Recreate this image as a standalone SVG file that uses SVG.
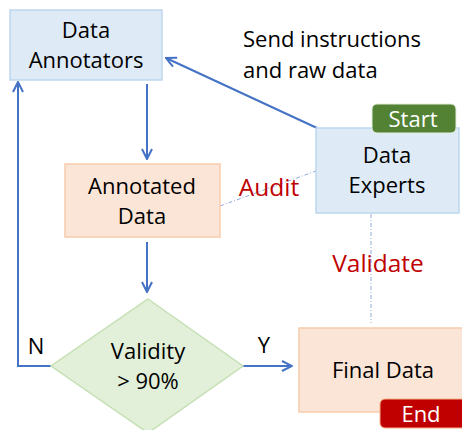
<svg xmlns="http://www.w3.org/2000/svg" width="462" height="430" viewBox="0 0 462 430">
<defs>
<style>
text{font-family:"Open Sans","Noto Sans",sans-serif;font-size:22px;fill:#000;text-anchor:middle}
.blue{fill:#DEEBF7;stroke:#BDD7EE;stroke-width:1.5}
.orange{fill:#FBE5D6;stroke:#F8CBAD;stroke-width:1.5}
.green{fill:#E2F0D9;stroke:#C5E0B4;stroke-width:1.5}
.conn{fill:none;stroke:#4472C4;stroke-width:2}
.dash{fill:none;stroke:#8FAADC;stroke-width:1;stroke-dasharray:4 2 1 2}
.red{fill:#C00000;font-size:24.5px}
.badge text{fill:#fff;font-size:22px}
</style>
<marker id="arr" viewBox="0 0 12 12" refX="11" refY="6" markerWidth="12" markerHeight="12" markerUnits="userSpaceOnUse" orient="auto">
<path d="M1,1 L11,6 L1,11" fill="none" stroke="#4472C4" stroke-width="2"/>
</marker>
</defs>
<rect width="462" height="430" fill="#fff"/>
<g id="connectors">
<line class="conn" x1="317" y1="128" x2="166" y2="58" marker-end="url(#arr)"/>
<line class="conn" x1="147" y1="84" x2="147" y2="159" marker-end="url(#arr)"/>
<line class="conn" x1="147" y1="242" x2="147" y2="292" marker-end="url(#arr)"/>
<polyline class="conn" points="51,366 18,366 18,82" marker-end="url(#arr)"/>
<line class="conn" x1="243" y1="366" x2="292" y2="366" marker-end="url(#arr)"/>
<line class="dash" x1="220" y1="206" x2="316" y2="171"/>
<line class="dash" x1="371" y1="214" x2="371" y2="323"/>
<text x="36" y="354">N</text>
<text x="264" y="353">Y</text>
<text class="red" x="269" y="196">Audit</text>
<text class="red" x="378" y="272">Validate</text>
</g>
<g id="instructions">
<text x="243" y="47" style="text-anchor:start">Send instructions</text>
<text x="243" y="78" style="text-anchor:start">and raw data</text>
</g>
<g id="annotators">
<rect class="blue" x="10" y="10" width="152" height="70"/>
<text x="86" y="38">Data</text>
<text x="86" y="68">Annotators</text>
</g>
<g id="experts">
<rect class="blue" x="316" y="128" width="143" height="85"/>
<text x="387" y="163">Data</text>
<text x="387" y="193">Experts</text>
</g>
<g id="start" class="badge">
<rect x="372" y="104" width="84" height="29" rx="5" fill="#548235" stroke="#E2F0D9" stroke-width="1"/>
<text x="413" y="127">Start</text>
</g>
<g id="annotated">
<rect class="orange" x="65" y="164" width="155" height="73"/>
<text x="142" y="194">Annotated</text>
<text x="142" y="224">Data</text>
</g>
<g id="validity">
<polygon class="green" points="148,299 243,366 148,433 51,366"/>
<text x="148" y="359">Validity</text>
<text x="148" y="389">&gt; 90%</text>
</g>
<g id="final">
<rect class="orange" x="299" y="328" width="170" height="84"/>
<text x="383" y="378">Final Data</text>
</g>
<g id="end" class="badge">
<rect x="380" y="399" width="90" height="29" rx="5" fill="#C00000" stroke="#F4B183" stroke-width="1"/>
<text x="421" y="422">End</text>
</g>
</svg>
